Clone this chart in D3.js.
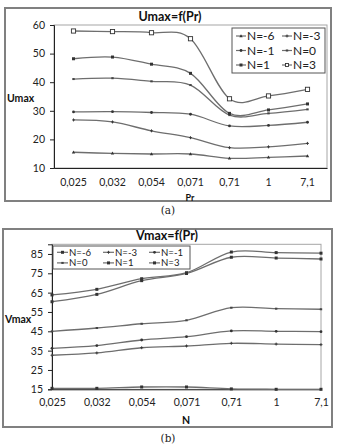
<!DOCTYPE html>
<html>
<head>
<meta charset="utf-8">
<script src="https://cdn.jsdelivr.net/npm/d3@7"></script>
<style>
  body { margin: 0; background: #fff; }
  svg { display: block; font-family: Lato, "Liberation Sans", sans-serif; }
</style>
</head>
<body>
<svg id="fig" width="337" height="447"></svg>
<script>
// categories (Pr) shared by both panels
const prLabels = ['0,025', '0,032', '0,054', '0,071', '0,71', '1', '7,1'];
const seriesNames = ['N=-6', 'N=-3', 'N=-1', 'N=0', 'N=1', 'N=3'];

// panel (a) Umax values, same order as seriesNames
const umaxN6 = [15.5, 15.1, 14.9, 14.9, 13.4, 13.7, 14.2];
const umaxN3 = [26.8, 26.1, 23.0, 20.6, 17.1, 17.4, 18.6];
const umaxN1 = [29.6, 29.7, 29.4, 28.8, 24.7, 24.9, 26.0];
const umax0  = [41.1, 41.4, 40.3, 39.0, 28.5, 29.1, 30.5];
const umax1  = [48.2, 48.8, 46.3, 43.1, 29.1, 30.3, 32.4];
const umax3  = [57.9, 57.7, 57.3, 55.2, 34.2, 35.2, 37.5];

// panel (b) Vmax values
const vmaxN6 = [15.5, 15.5, 16.2, 16.2, 15.2, 15.0, 15.0];
const vmaxN3 = [32.6, 33.8, 36.5, 37.4, 38.8, 38.4, 38.1];
const vmaxN1 = [36.2, 37.6, 40.5, 42.2, 45.2, 45.0, 44.8];
const vmax0  = [45.0, 46.7, 48.9, 50.7, 57.2, 56.7, 56.4];
const vmax1  = [60.3, 64.1, 71.2, 74.9, 83.3, 82.9, 82.4];
const vmax3  = [63.8, 66.7, 72.2, 75.3, 86.0, 85.7, 85.4];

const umaxTicks = [10, 20, 30, 40, 50, 60];
const vmaxTicks = [15, 25, 35, 45, 55, 65, 75, 85];

const markerShapes = ['tri', 'plus', 'dot', 'dash', 'sq', 'osq'];

const svg = d3.select('#fig');

function drawMarker(g, shape, x, y, big) {
    const s = big ? 2.1 : 1.5;
    if (shape === 'osq') {
        g.append('rect').attr('x', x - s).attr('y', y - s).attr('width', 2 * s).attr('height', 2 * s)
            .attr('fill', '#fff').attr('stroke', '#333').attr('stroke-width', 0.9);
    } else if (shape === 'sq') {
        g.append('rect').attr('x', x - 1.5).attr('y', y - 1.5).attr('width', 3).attr('height', 3).attr('fill', '#333');
    } else if (shape === 'plus') {
        g.append('path').attr('d', `M${x - 1.5},${y}H${x + 1.5}M${x},${y - 1.5}V${y + 1.5}`)
            .attr('stroke', '#333').attr('stroke-width', 0.9);
    } else if (shape === 'tri') {
        g.append('path').attr('d', `M${x},${y - 1.8}L${x + 1.7},${y + 1.2}L${x - 1.7},${y + 1.2}Z`).attr('fill', '#333');
    } else if (shape === 'dash') {
        g.append('rect').attr('x', x - 1.2).attr('y', y - 1).attr('width', 2.4).attr('height', 2).attr('fill', '#444');
    } else {
        g.append('circle').attr('cx', x).attr('cy', y).attr('r', 1.4).attr('fill', '#333');
    }
}

function drawPanel(cfg) {
    const g = svg.append('g');

    // outer frame
    g.append('rect')
        .attr('x', cfg.frame[0]).attr('y', cfg.frame[1])
        .attr('width', cfg.frame[2] - cfg.frame[0]).attr('height', cfg.frame[3] - cfg.frame[1])
        .attr('fill', 'none').attr('stroke', '#808080').attr('stroke-width', 2);

    const x = cfg.band
        ? d3.scaleBand().domain(prLabels).range([cfg.left, cfg.right])
        : d3.scalePoint().domain(prLabels).range([cfg.left, cfg.right]);
    const xc = d => cfg.band ? x(d) + x.bandwidth() / 2 : x(d);
    const y = d3.scaleLinear().domain(cfg.yDomain).range([cfg.bottom, cfg.top]);

    // plot area border
    g.append('rect')
        .attr('x', cfg.left).attr('y', cfg.top)
        .attr('width', cfg.right - cfg.left).attr('height', cfg.bottom - cfg.top)
        .attr('fill', 'none').attr('stroke', '#a6a6a6').attr('stroke-width', 1);

    // y axis
    const yAxis = g.append('g')
        .attr('transform', `translate(${cfg.left},0)`)
        .call(d3.axisLeft(y).tickValues(cfg.ticks).tickSize(4).tickPadding(5));
    yAxis.select('.domain').attr('stroke', '#222');
    yAxis.selectAll('.tick line').attr('stroke', '#222');
    yAxis.selectAll('text').attr('font-size', 10.5).attr('fill', '#222').attr('font-family', 'Lato');

    // x axis
    const xAxis = g.append('g')
        .attr('transform', `translate(0,${cfg.bottom})`)
        .call(d3.axisBottom(x).tickSize(0).tickPadding(cfg.xPad));
    xAxis.select('.domain').attr('stroke', '#222');
    xAxis.selectAll('text').attr('font-size', 10.5).attr('fill', '#222').attr('font-family', 'Lato');

    // smoothed lines like the spreadsheet's
    const line = d3.line()
        .x((d, i) => xc(prLabels[i]))
        .y(d => y(d))
        .curve(d3.curveCatmullRom.alpha(0));

    cfg.series.forEach(vals => {
        g.append('path')
            .attr('d', line(vals))
            .attr('fill', 'none')
            .attr('stroke', '#6e6e6e')
            .attr('stroke-width', 1.3);
    });
    cfg.series.forEach((vals, si) => {
        vals.forEach((v, i) => drawMarker(g, cfg.shapes[si], xc(prLabels[i]), y(v), cfg.bigLast && si === 5));
    });

    // titles
    g.append('text').attr('x', cfg.titleX).attr('y', cfg.titleY)
        .attr('text-anchor', 'middle').attr('font-weight', 'bold').attr('font-size', 12.5)
        .attr('fill', '#111').text(cfg.title);
    g.append('text').attr('x', cfg.yLabelX).attr('y', cfg.yLabelY)
        .attr('font-weight', 'bold').attr('font-size', 10.5).attr('fill', '#111').text(cfg.yLabel);
    g.append('text').attr('x', cfg.xLabelX).attr('y', cfg.xLabelY)
        .attr('text-anchor', 'middle').attr('font-weight', 'bold').attr('font-size', cfg.xLabelSize)
        .attr('fill', '#111').text(cfg.xLabel);
    g.append('text').attr('x', 168).attr('y', cfg.captionY)
        .attr('text-anchor', 'middle').attr('font-family', 'DejaVu Serif').attr('font-size', 10.5)
        .attr('fill', '#222').text(cfg.caption);

    // legend
    const L = cfg.legend;
    g.append('rect').attr('x', L.x).attr('y', L.y).attr('width', L.w).attr('height', L.h)
        .attr('fill', '#fff').attr('stroke', '#555').attr('stroke-width', 1);
    seriesNames.forEach((name, i) => {
        const col = i % L.cols, row = Math.floor(i / L.cols);
        const lx = L.x + L.pad + col * L.colW;
        const ly = L.y + L.rowY0 + row * L.rowH;
        g.append('line').attr('x1', lx).attr('x2', lx + L.lineW).attr('y1', ly).attr('y2', ly)
            .attr('stroke', '#6e6e6e').attr('stroke-width', 1.2);
        drawMarker(g, cfg.shapes[i], lx + L.lineW / 2, ly, false);
        g.append('text').attr('x', lx + L.lineW + 1).attr('y', ly).attr('dy', '0.35em')
            .attr('font-size', L.font).attr('fill', '#222').text(name);
    });
}

drawPanel({
    frame: [5, 8, 331, 201],
    left: 54, right: 327, top: 25, bottom: 168,
    band: true, xPad: 11,
    yDomain: [10, 60], ticks: umaxTicks,
    series: [umaxN6, umaxN3, umaxN1, umax0, umax1, umax3],
    shapes: markerShapes, bigLast: true,
    title: 'Umax=f(Pr)', titleX: 170, titleY: 21,
    yLabel: 'Umax', yLabelX: 7, yLabelY: 102,
    xLabel: 'Pr', xLabelX: 190, xLabelY: 201, xLabelSize: 9,
    caption: '(a)', captionY: 214,
    legend: { x: 232, y: 28, w: 93, h: 45, cols: 2, pad: 4, colW: 46, lineW: 10, rowY0: 8, rowH: 14.5, font: 12 }
});

drawPanel({
    frame: [3, 229, 332, 427],
    left: 52, right: 321, top: 244.3, bottom: 389.3,
    band: false, xPad: 9,
    yDomain: [15, 90], ticks: vmaxTicks,
    series: [vmaxN6, vmaxN3, vmaxN1, vmax0, vmax1, vmax3],
    shapes: ['sq', 'plus', 'dot', 'dash', 'sq', 'sq'], bigLast: false,
    title: 'Vmax=f(Pr)', titleX: 167, titleY: 240,
    yLabel: 'Vmax', yLabelX: 5, yLabelY: 323,
    xLabel: 'N', xLabelX: 186, xLabelY: 424, xLabelSize: 10.5,
    caption: '(b)', captionY: 442,
    legend: { x: 53, y: 246, w: 137, h: 23, cols: 3, pad: 4, colW: 46, lineW: 11, rowY0: 6.3, rowH: 10.6, font: 9.6 }
});
</script>
</body>
</html>
